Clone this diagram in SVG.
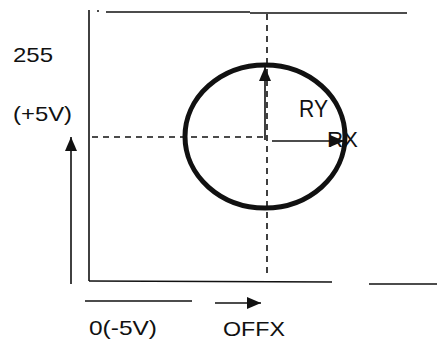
<svg xmlns="http://www.w3.org/2000/svg" width="437" height="342" viewBox="0 0 437 342">
  <style>
    .ln { stroke: #111; stroke-width: 1.6; fill: none; }
    .dash { stroke: #111; stroke-width: 1.6; fill: none; stroke-dasharray: 6 5; }
    .arr { stroke: #111; stroke-width: 1.6; fill: none; marker-end: url(#ah); }
    .txt { font-family: "Liberation Sans", Arial, sans-serif; font-size: 21px; fill: #111; }
  </style>
  <defs>
    <marker id="ah" markerUnits="userSpaceOnUse" markerWidth="15" markerHeight="12" refX="14" refY="6" orient="auto">
      <path d="M0,0 L14,6 L0,12 z" fill="#111"/>
    </marker>
  </defs>
  <rect width="437" height="342" fill="#fff"/>

  <g id="frame">
    <line class="ln" x1="106" y1="12" x2="250" y2="12"/>
    <line class="ln" x1="250" y1="13" x2="407" y2="13"/>
    <line class="ln" x1="97" y1="11" x2="99" y2="11"/>
    <line class="ln" x1="89" y1="10" x2="89" y2="281"/>
    <line class="ln" x1="89" y1="281" x2="332" y2="282"/>
    <line class="ln" x1="369" y1="284" x2="437" y2="284"/>
    <line class="ln" x1="85" y1="301" x2="192" y2="301"/>
  </g>

  <g id="guides">
    <line class="dash" x1="92" y1="137" x2="264" y2="137"/>
    <line class="dash" x1="267" y1="14" x2="267" y2="276"/>
  </g>

  <g id="ellipse">
    <ellipse cx="265" cy="136.5" rx="80" ry="71.5" fill="none" stroke="#111" stroke-width="5"/>
  </g>

  <g id="connectors">
    <line class="arr" x1="71" y1="284" x2="71" y2="137"/>
    <line class="arr" x1="215" y1="303" x2="261" y2="303"/>
    <line class="arr" x1="265" y1="140" x2="265" y2="67"/>
    <line class="arr" x1="272" y1="141" x2="344" y2="141"/>
  </g>

  <g id="label-255"><text class="txt" x="13" y="62" textLength="40" lengthAdjust="spacingAndGlyphs">255</text></g>
  <g id="label-plus5v"><text class="txt" x="13" y="121" textLength="59" lengthAdjust="spacingAndGlyphs">(+5V)</text></g>
  <g id="label-minus5v"><text class="txt" x="89" y="335" textLength="68" lengthAdjust="spacingAndGlyphs">0(-5V)</text></g>
  <g id="label-offx"><text class="txt" x="223" y="336" textLength="62" lengthAdjust="spacingAndGlyphs">OFFX</text></g>
  <g id="label-ry"><text class="txt" x="299" y="117" textLength="29" lengthAdjust="spacingAndGlyphs" style="font-size:23px">RY</text></g>
  <g id="label-rx"><text class="txt" x="327" y="147" style="font-size:22px" textLength="31" lengthAdjust="spacingAndGlyphs">RX</text></g>
</svg>
